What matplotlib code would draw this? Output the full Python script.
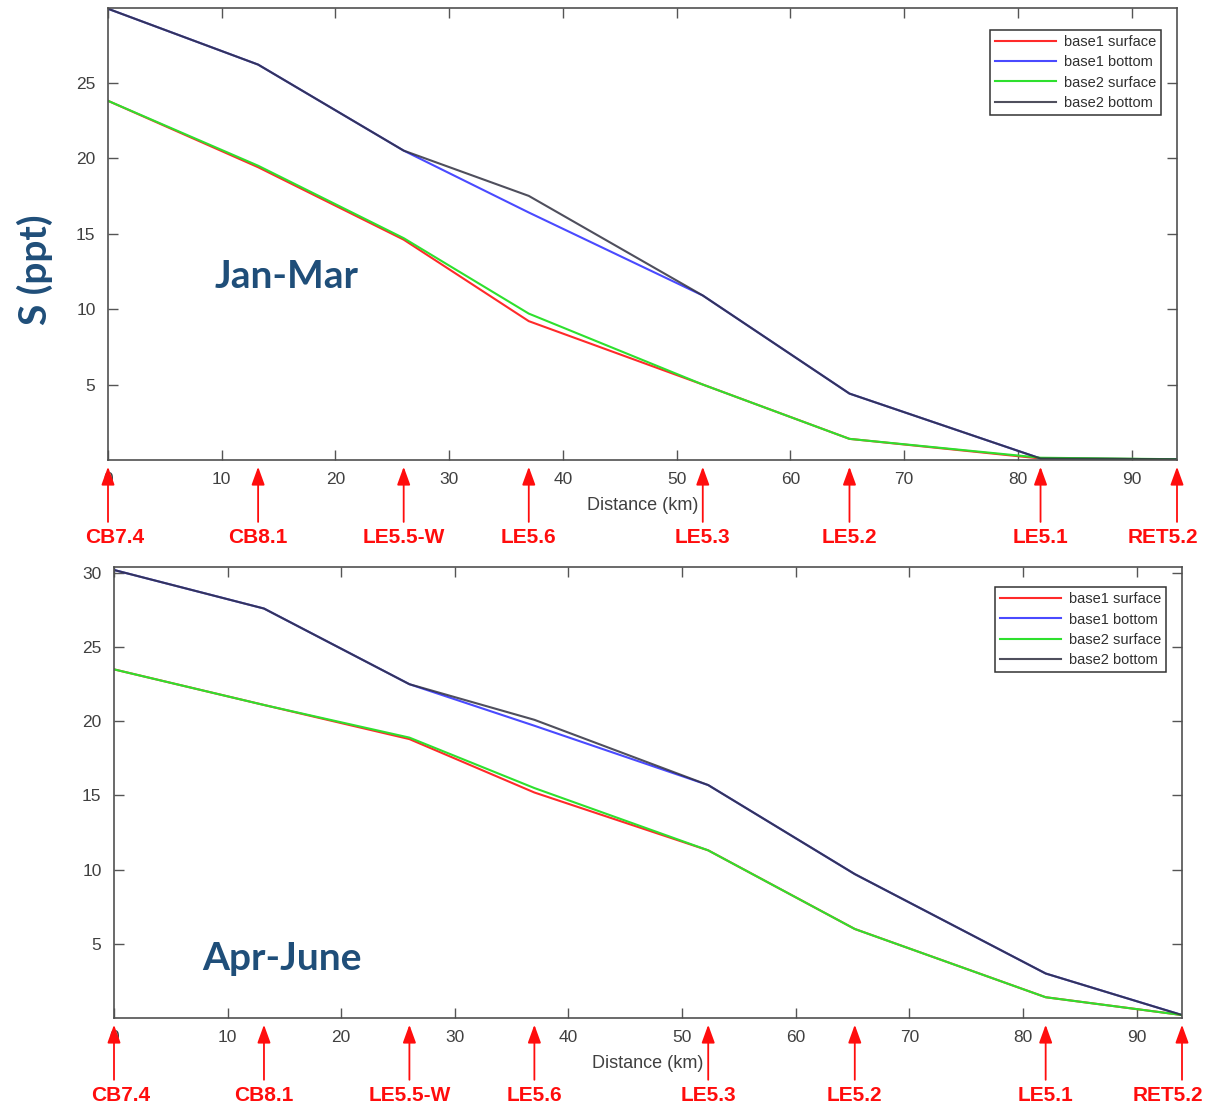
import matplotlib
matplotlib.use('Agg')
import matplotlib.pyplot as plt

plt.rcParams['font.family'] = ['Liberation Sans', 'DejaVu Sans']

# station positions along the transect (km)
stations = ['CB7.4', 'CB8.1', 'LE5.5-W', 'LE5.6', 'LE5.3', 'LE5.2', 'LE5.1', 'RET5.2']
dist = [0, 13.2, 26.0, 37.0, 52.3, 65.2, 82.0, 94.0]

# Jan-Mar salinity (ppt)
jm_b1_surf = [23.8, 19.4, 14.6, 9.2, 5.0, 1.4, 0.1, 0.05]
jm_b1_bot = [29.9, 26.2, 20.5, 16.4, 10.9, 4.4, 0.1, 0.05]
jm_b2_surf = [23.8, 19.5, 14.7, 9.7, 5.0, 1.4, 0.15, 0.05]
jm_b2_bot = [29.9, 26.2, 20.5, 17.5, 10.9, 4.4, 0.1, 0.05]

# Apr-June salinity (ppt)
aj_b1_surf = [23.5, 21.1, 18.8, 15.2, 11.3, 6.0, 1.4, 0.2]
aj_b1_bot = [30.2, 27.6, 22.5, 19.7, 15.7, 9.7, 3.0, 0.2]
aj_b2_surf = [23.5, 21.1, 18.9, 15.5, 11.3, 6.0, 1.4, 0.2]
aj_b2_bot = [30.2, 27.6, 22.5, 20.1, 15.7, 9.7, 3.0, 0.2]

RED = '#ff2a2a'
BLUE = '#4a4aff'
GREEN = '#2ee02e'
BLACK = '#303040'
TXT = '#404040'
NAVY = '#1f4e79'
ARROW = '#ff0d0d'

fig = plt.figure(figsize=(12.13, 11.11), dpi=100)
ax1 = fig.add_axes([108 / 1213, 1 - 460 / 1111, 1069 / 1213, 452 / 1111])
ax2 = fig.add_axes([114 / 1213, 1 - 1018 / 1111, 1068 / 1213, 451 / 1111])

# label nudges in points so end labels stay on the page
lab_dx = [5, 0, 0, 0, 0, 0, 0, -10]


def draw_panel(ax, s1, b1, s2, b2, ymax, yticks, season, season_xy, leg_anchor):
    ax.plot(dist, s1, color=RED, lw=1.5, label='base1 surface')
    ax.plot(dist, b1, color=BLUE, lw=1.5, label='base1 bottom')
    ax.plot(dist, s2, color=GREEN, lw=1.5, label='base2 surface')
    ax.plot(dist, b2, color=BLACK, lw=1.5, alpha=0.85, label='base2 bottom')
    ax.set_xlim(0, 94)
    ax.set_ylim(0, ymax)
    ax.set_xticks(range(0, 100, 10))
    ax.set_yticks(yticks)
    ax.tick_params(direction='in', top=True, right=True, length=7, width=1,
                   colors='#555555', labelcolor=TXT, labelsize=12.5, pad=9)
    for sp in ax.spines.values():
        sp.set_color('#505050')
        sp.set_linewidth(1.2)
    ax.set_xlabel('Distance (km)', color=TXT, fontsize=13, labelpad=7)
    leg = ax.legend(loc='upper right', bbox_to_anchor=leg_anchor, fancybox=False,
                    edgecolor='#333333', framealpha=1, fontsize=10.5,
                    handlelength=4.2, labelspacing=0.42, borderpad=0.35,
                    handletextpad=0.5, borderaxespad=0)
    leg.get_frame().set_linewidth(1.1)
    for t in leg.get_texts():
        t.set_color('#303030')
    ax.text(season_xy[0], season_xy[1], season, transform=ax.transAxes,
            fontsize=28, fontweight='bold', color=NAVY, family='Lato',
            ha='left', va='center')
    tr = ax.get_xaxis_transform()
    for name, x, dx in zip(stations, dist, lab_dx):
        ax.annotate('', xy=(x, -0.015), xytext=(x, -0.137), xycoords=tr,
                    textcoords=tr, annotation_clip=False, zorder=10,
                    arrowprops=dict(arrowstyle='-|>,head_length=1.1,head_width=0.4',
                                    color=ARROW, lw=1.3, shrinkA=0, shrinkB=0))
        ax.annotate(name, xy=(x, -0.172), xycoords=tr, xytext=(dx, 0),
                    textcoords='offset points', ha='center', va='center',
                    fontsize=15, fontweight='bold', color=ARROW,
                    annotation_clip=False)


draw_panel(ax1, jm_b1_surf, jm_b1_bot, jm_b2_surf, jm_b2_bot, 29.95,
           [5, 10, 15, 20, 25], 'Jan-Mar', (0.1, 0.405), (0.985, 0.951))
draw_panel(ax2, aj_b1_surf, aj_b1_bot, aj_b2_surf, aj_b2_bot, 30.4,
           [5, 10, 15, 20, 25, 30], 'Apr-June', (0.083, 0.133), (0.985, 0.955))

fig.text(35 / 1213, 1 - 270 / 1111, 'S (ppt)', rotation=90, fontsize=28,
         fontweight='bold', color=NAVY, family='Lato', ha='center', va='center')

fig.savefig('out.png', dpi=100, facecolor='white')
